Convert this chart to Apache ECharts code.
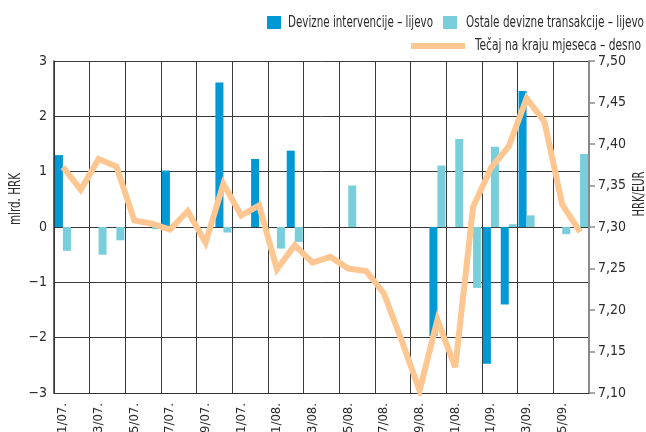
<!DOCTYPE html>
<html>
<head>
<meta charset="utf-8">
<script src="https://cdn.jsdelivr.net/npm/echarts@6/dist/echarts.min.js"></script>
<style>
html,body{margin:0;padding:0;background:#fff;}
#chart{width:646px;height:432px;}
</style>
</head>
<body>
<div id="chart"></div>
<script>
// Categories: months 1/07 .. 6/09
var months = ["1/07.","2/07.","3/07.","4/07.","5/07.","6/07.","7/07.","8/07.","9/07.","10/07.","11/07.","12/07.",
              "1/08.","2/08.","3/08.","4/08.","5/08.","6/08.","7/08.","8/08.","9/08.","10/08.","11/08.","12/08.",
              "1/09.","2/09.","3/09.","4/09.","5/09.","6/09."];

// Devizne intervencije – lijevo (mlrd. HRK)
var intervencije = [1.30,null,null,null,null,null,1.02,null,null,2.61,null,1.23,
                    null,1.38,null,null,null,null,null,null,null,-1.97,null,null,
                    -2.47,-1.40,2.46,null,null,null];

// Ostale devizne transakcije – lijevo (mlrd. HRK)
var ostale = [-0.43,null,-0.50,-0.24,null,-0.04,null,null,null,-0.10,null,null,
              -0.39,-0.27,null,null,0.75,null,null,null,null,1.11,1.59,-1.10,
              1.45,0.05,0.21,null,-0.13,1.32];

// Tečaj na kraju mjeseca – desno (HRK/EUR)
var tecaj = [7.372,7.345,7.382,7.373,7.308,7.304,7.297,7.319,7.281,7.352,7.314,7.326,
             7.249,7.278,7.257,7.264,7.250,7.247,7.220,7.163,7.103,7.188,7.131,7.324,
             7.371,7.397,7.455,7.427,7.327,7.294];

var seriesNames = ['Devizne intervencije – lijevo','Ostale devizne transakcije – lijevo','Tečaj na kraju mjeseca – desno'];
var axisNames = ['mlrd. HRK','HRK/EUR'];
var rightTicks = ["7,10","7,15","7,20","7,25","7,30","7,35","7,40","7,45","7,50"];

var FONT = "'DejaVu Sans Condensed','DejaVu Sans',sans-serif";
var TXT = '#2b2b2b';
var BLUE = '#0099d5';
var CYAN = '#78cedb';
var ORANGE = '#fec792';

// measure text width to condense the font horizontally to the reference's narrow face
var cv = document.createElement('canvas').getContext('2d');
function fitScale(text, size, target){
  cv.font = size + "px 'DejaVu Sans Condensed','DejaVu Sans',sans-serif";
  var w = cv.measureText(text).width;
  return w > 0 ? target / w : 1;
}

function legendText(x, y, text, target){
  return {type:'text', x:x, y:y, scaleX:fitScale(text,15,target), scaleY:1,
    style:{text:text, fontFamily:FONT, fontSize:15, fill:TXT, align:'left', verticalAlign:'middle'}};
}

var chart = echarts.init(document.getElementById('chart'), null, {renderer:'canvas'});
chart.setOption({
  animation:false,
  backgroundColor:'#fff',
  textStyle:{fontFamily:FONT},
  grid:{left:54, right:57, top:61, bottom:39, containLabel:false, outerBoundsMode:'none'},
  xAxis:{
    type:'category', data:months, boundaryGap:true,
    axisLine:{show:true, onZero:false, lineStyle:{color:'#333',width:1}},
    axisTick:{show:false},
    axisLabel:{interval:1, rotate:90, margin:10, fontFamily:FONT, fontSize:13, color:TXT},
    splitLine:{show:true, interval:1, lineStyle:{color:'#3a3a3a',width:1}}
  },
  yAxis:[
    {type:'value', min:-3, max:3, interval:1, position:'left',
     axisLine:{show:true, lineStyle:{color:'#333',width:1.5}},
     axisTick:{show:false},
     axisLabel:{margin:7, fontFamily:FONT, fontSize:14, color:TXT,
       formatter:function(v){return v<0?('\u2212'+Math.abs(v)):String(v);}},
     splitLine:{show:true, lineStyle:{color:'#3a3a3a',width:1}}},
    {type:'value', min:7.10, max:7.50, interval:0.05, position:'right',
     axisLine:{show:true, lineStyle:{color:'#8a8a8a',width:2}},
     axisTick:{show:true, inside:false, length:6, lineStyle:{color:'#8a8a8a',width:1.5}},
     axisLabel:{margin:9, fontFamily:FONT, fontSize:14, color:TXT,
       formatter:function(v){var i=Math.round((v-7.10)/0.05);return rightTicks[i]||'';}},
     splitLine:{show:false}}
  ],
  graphic:[
    // legend
    {type:'rect', shape:{x:267,y:16,width:14,height:13}, style:{fill:BLUE}},
    legendText(288, 23, seriesNames[0], 145),
    {type:'rect', shape:{x:443,y:16,width:14,height:13}, style:{fill:CYAN}},
    legendText(466, 23, seriesNames[1], 178),
    {type:'rect', shape:{x:411,y:43,width:54,height:6}, style:{fill:ORANGE}},
    legendText(475, 46, seriesNames[2], 166),
    // axis titles
    {type:'text', x:16, y:199, rotation:Math.PI/2, scaleX:fitScale(axisNames[0],15,52),
     style:{text:axisNames[0], fontFamily:FONT, fontSize:15, fill:TXT, align:'center', verticalAlign:'middle'}},
    {type:'text', x:640, y:194, rotation:Math.PI/2, scaleX:fitScale(axisNames[1],15,45),
     style:{text:axisNames[1], fontFamily:FONT, fontSize:15, fill:TXT, align:'center', verticalAlign:'middle'}}
  ],
  series:[
    {name:seriesNames[0], type:'bar', yAxisIndex:0, data:intervencije,
     barWidth:8, barGap:'0%', itemStyle:{color:BLUE}},
    {name:seriesNames[1], type:'bar', yAxisIndex:0, data:ostale,
     barWidth:8, barGap:'0%', itemStyle:{color:CYAN}},
    {name:seriesNames[2], type:'line', yAxisIndex:1, data:tecaj,
     symbol:'none', itemStyle:{color:ORANGE},
     lineStyle:{color:ORANGE, width:6, join:'miter', miterLimit:4}, z:5}
  ]
});
</script>
</body>
</html>
